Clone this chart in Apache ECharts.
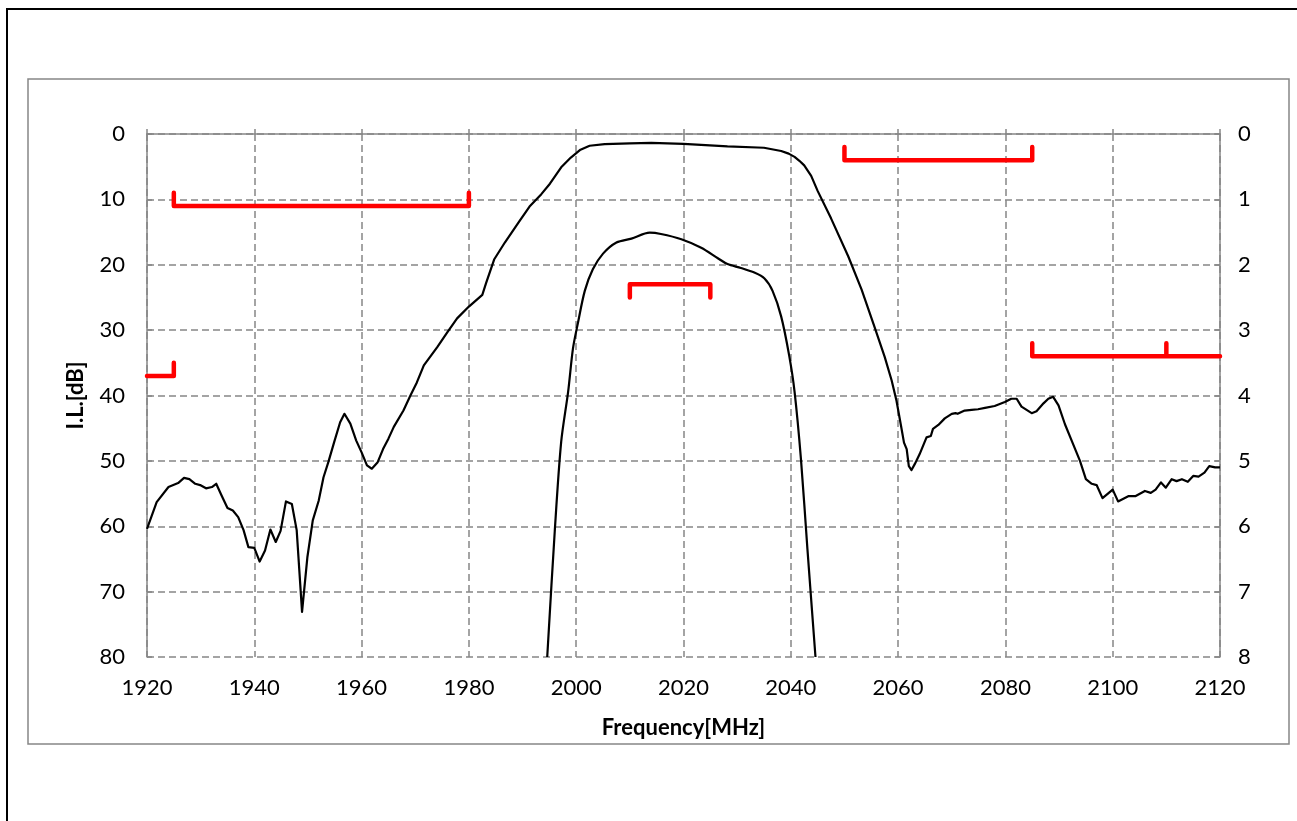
<!DOCTYPE html>
<html>
<head>
<meta charset="utf-8">
<script src="https://cdn.jsdelivr.net/npm/echarts@6/dist/echarts.min.js"></script>
<style>
html,body{margin:0;padding:0;background:#fff;}
#chart{width:1297px;height:821px;}
</style>
</head>
<body>
<div id="chart"></div>
<script>
// Wide-band attenuation curve (left axis, dB)
var outerFreq = [1920,1921.8,1924.0,1925.8,1926.9,1927.9,1929.0,1929.9,1931.0,1932.1,1932.9,1933.9,1935.0,1936.0,1937.0,1938.0,1938.9,1940.0,1941.0,1942.0,1943.0,1944.0,1944.9,1945.9,1947.0,1947.9,1948.9,1949.9,1950.9,1952.0,1952.9,1953.8,1954.9,1956.0,1956.8,1957.9,1959.0,1960.0,1961.0,1961.9,1963.0,1964.0,1965.0,1966.0,1967.8,1969.1,1970.3,1971.6,1974.1,1976.0,1977.8,1980.0,1982.5,1983.2,1984.7,1986.7,1989.2,1991.3,1993.5,1995.1,1997.2,1999.0,2000.8,2002.5,2005.3,2010,2014,2020,2028.2,2035,2038.2,2039.6,2040.7,2041.6,2042.5,2043.8,2045,2047.5,2050.7,2053.2,2055.6,2057.5,2058.8,2059.7,2060.6,2061.1,2061.6,2062.0,2062.5,2063.1,2064.0,2065.3,2066.1,2066.5,2067.5,2068.7,2070.0,2070.7,2071.1,2072.4,2073.7,2074.9,2076.2,2078.0,2079.9,2081.1,2082.1,2083.0,2084.9,2085.8,2087.1,2088.0,2088.9,2089.9,2091.1,2092.6,2093.9,2095.0,2096.1,2097.0,2098.1,2100.0,2101.0,2102.9,2104.2,2106.0,2107.1,2108.0,2109.0,2109.9,2111.0,2111.9,2112.9,2114.0,2115.0,2116.0,2117.1,2118.0,2119.1,2120];
var outerLoss = [60.4,56.3,54.0,53.4,52.6,52.8,53.5,53.7,54.2,54.0,53.5,55.3,57.2,57.6,58.6,60.6,63.2,63.3,65.4,63.7,60.5,62.4,60.7,56.2,56.6,60.6,73.1,64.7,59.1,56.1,52.5,50.2,47.1,44.1,42.8,44.3,46.9,48.7,50.7,51.2,50.2,48.2,46.6,44.8,42.3,40.0,38.0,35.4,32.6,30.3,28.2,26.4,24.6,22.8,19.2,16.6,13.6,11.1,9.2,7.6,5.1,3.6,2.4,1.8,1.54,1.42,1.37,1.5,1.9,2.1,2.6,3.0,3.5,4.1,4.8,6.4,8.7,12.9,18.7,23.8,29.5,34.1,37.7,40.8,44.9,47.2,48.2,50.8,51.4,50.5,49.0,46.4,46.2,45.1,44.5,43.5,42.8,42.7,42.8,42.3,42.2,42.1,41.9,41.6,41.0,40.5,40.5,41.7,42.7,42.4,41.2,40.5,40.2,41.5,44.4,47.4,50.0,52.8,53.5,53.7,55.7,54.4,56.2,55.4,55.4,54.6,54.9,54.4,53.3,54.1,52.8,53.1,52.8,53.2,52.3,52.4,51.8,50.8,51.0,51.0];

// Passband insertion loss curve (right axis, dB)
var innerFreq = [1994.6,1996.0,1997.2,1998.5,1999.4,2000.3,2001.6,2003.1,2005.0,2007.5,2010.3,2013.7,2015.8,2019.6,2023.3,2026.4,2028.2,2030.7,2033.2,2035.1,2036.6,2038.2,2039.7,2040.7,2041.9,2043.1,2044.6];
var innerLoss = [8.0,6.08,4.71,3.94,3.28,2.90,2.40,2.07,1.83,1.66,1.60,1.51,1.53,1.61,1.74,1.90,1.99,2.05,2.12,2.21,2.40,2.79,3.39,3.94,4.98,6.35,8.0];

// Specification masks (left axis, dB)
var mask1Freq = [1920,1925,1925];            var mask1Loss = [37,37,35];
var mask2Freq = [1925,1925,1980,1980];       var mask2Loss = [9,11,11,9];
var mask3Freq = [2010,2010,2025,2025];       var mask3Loss = [25,23,23,25];
var mask4Freq = [2050,2050,2085,2085];       var mask4Loss = [2,4,4,2];
var mask5Freq = [2085,2085,2110,2110,2110,2120]; var mask5Loss = [32,34,34,32,34,34];

var xTicks = {min:1920, max:2120, step:20};
var yLeft = {min:0, max:80, step:10};
var yRight = {min:0, max:8, step:1};

function pairs(f, v){ return f.map(function(x,i){ return [x, v[i]]; }); }
function plain(v){ return String(v); }

var FONT = 'Lato';
var GRAY = '#868686';
var chart = echarts.init(document.getElementById('chart'), null, {renderer:'canvas'});

function maskSeries(f, v){
  return {type:'line', yAxisIndex:0, data:pairs(f,v), symbol:'none', silent:true,
    lineStyle:{color:'#ff0000', width:4.5, cap:'round', join:'round'}, z:3};
}

chart.setOption({
  animation:false,
  backgroundColor:'#fff',
  graphic:[
    {type:'rect', shape:{x:7, y:9, width:1300, height:830}, style:{fill:'none', stroke:'#000', lineWidth:2}, z:-10},
    {type:'rect', shape:{x:28, y:79, width:1261, height:665}, style:{fill:'none', stroke:GRAY, lineWidth:1.5}, z:-9}
  ],
  grid:{left:147, right:77, top:134, bottom:164, containLabel:false},
  xAxis:{type:'value', min:xTicks.min, max:xTicks.max, interval:xTicks.step,
    name:'Frequency[MHz]', nameLocation:'middle', nameGap:60,
    nameTextStyle:{fontFamily:FONT, fontWeight:'bold', fontSize:22, color:'#000'},
    axisLine:{show:true, lineStyle:{color:GRAY, width:1.5}},
    axisTick:{show:true, inside:true, length:5, lineStyle:{color:GRAY, width:1.5}},
    axisLabel:{fontFamily:FONT, fontSize:22, color:'#000', margin:20, formatter:plain},
    splitLine:{show:true, lineStyle:{color:GRAY, width:1.5, type:[7,4]}}
  },
  yAxis:[
    {type:'value', min:yLeft.min, max:yLeft.max, interval:yLeft.step, inverse:true, position:'left',
      name:'I.L.[dB]', nameLocation:'middle', nameGap:60, nameRotate:90,
      nameTextStyle:{fontFamily:FONT, fontWeight:'bold', fontSize:22, color:'#000'},
      axisLine:{show:true, lineStyle:{color:GRAY, width:1.5}},
      axisTick:{show:true, inside:true, length:5, lineStyle:{color:GRAY, width:1.5}},
      axisLabel:{fontFamily:FONT, fontSize:22, color:'#000', margin:22, formatter:plain},
      splitLine:{show:true, lineStyle:{color:GRAY, width:1.5, type:[7,4]}}
    },
    {type:'value', min:yRight.min, max:yRight.max, interval:yRight.step, inverse:true, position:'right',
      axisLine:{show:true, lineStyle:{color:GRAY, width:1.5}},
      axisTick:{show:true, inside:true, length:5, lineStyle:{color:GRAY, width:1.5}},
      axisLabel:{fontFamily:FONT, fontSize:22, color:'#000', margin:18, formatter:plain},
      splitLine:{show:false}
    }
  ],
  series:[
    {type:'line', yAxisIndex:0, data:pairs(outerFreq, outerLoss), symbol:'none', smooth:false,
      lineStyle:{color:'#000', width:2.2, join:'round'}, z:4},
    {type:'line', yAxisIndex:1, data:pairs(innerFreq, innerLoss), symbol:'none', smooth:0.3,
      lineStyle:{color:'#000', width:2.2}, z:4},
    maskSeries(mask1Freq, mask1Loss),
    maskSeries(mask2Freq, mask2Loss),
    maskSeries(mask3Freq, mask3Loss),
    maskSeries(mask4Freq, mask4Loss),
    maskSeries(mask5Freq, mask5Loss)
  ]
});
</script>
</body>
</html>
